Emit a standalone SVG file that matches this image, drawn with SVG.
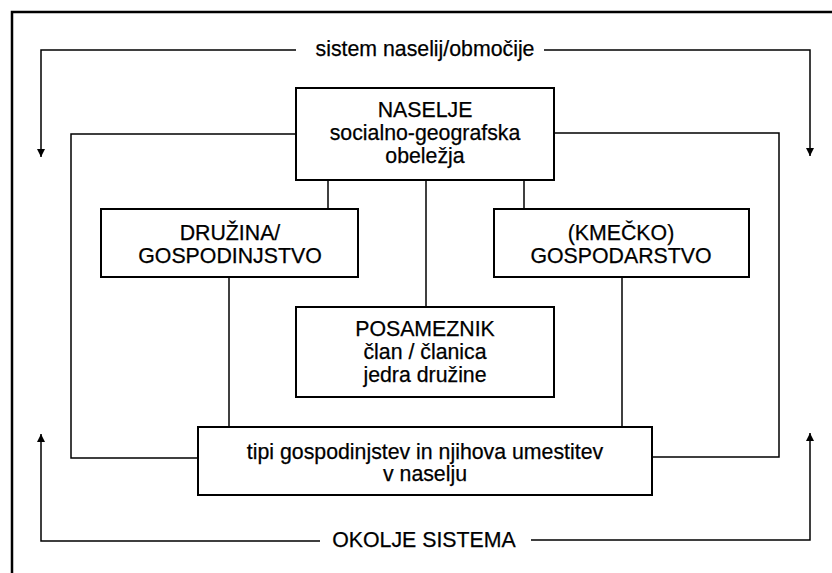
<svg xmlns="http://www.w3.org/2000/svg" width="832" height="573" viewBox="0 0 832 573">
<style>
.box{fill:#fff;stroke:#000;stroke-width:2}
.ln{fill:none;stroke:#000;stroke-width:1.5}
text{font-family:"Liberation Sans",Arial,sans-serif;font-size:21.3px;fill:#000;stroke:#000;stroke-width:0.25;text-anchor:middle}
</style>
<defs>
<marker id="ah" viewBox="0 0 8 10" refX="8" refY="5" markerWidth="9" markerHeight="10" markerUnits="userSpaceOnUse" orient="auto">
<path d="M0,1 L8,5 L0,9 Z" fill="#000"/>
</marker>
</defs>
<rect x="0" y="0" width="832" height="573" fill="#fff"/>
<rect id="frame" x="12" y="12" width="840" height="580" fill="none" stroke="#000" stroke-width="2.5"/>
<g id="connectors">
<path class="ln" d="M296,50 H41 V157" marker-end="url(#ah)"/>
<path class="ln" d="M544,50 H810 V156" marker-end="url(#ah)"/>
<path class="ln" d="M320,541 H41 V434" marker-end="url(#ah)"/>
<path class="ln" d="M531,540 H810 V433" marker-end="url(#ah)"/>
<path class="ln" d="M296,134 H71 V458 H198"/>
<path class="ln" d="M554,133 H779 V457 H652"/>
<path class="ln" d="M328,180 V209"/>
<path class="ln" d="M524,180 V209"/>
<path class="ln" d="M426,180 V307"/>
<path class="ln" d="M229,277 V427"/>
<path class="ln" d="M622,277 V427"/>
</g>
<g id="label-top"><text x="425" y="56">sistem naselij/območije</text></g>
<g id="label-bottom"><text x="424" y="547">OKOLJE SISTEMA</text></g>
<g id="naselje">
<rect class="box" x="296" y="88" width="258" height="92"/>
<text x="425" y="117">NASELJE</text>
<text x="425" y="140">socialno-geografska</text>
<text x="425" y="163">obeležja</text>
</g>
<g id="druzina">
<rect class="box" x="101" y="209" width="257" height="68"/>
<text x="230" y="240">DRUŽINA/</text>
<text x="230" y="263">GOSPODINJSTVO</text>
</g>
<g id="kmecko">
<rect class="box" x="494" y="209" width="255" height="68"/>
<text x="621" y="240">(KMEČKO)</text>
<text x="621" y="263">GOSPODARSTVO</text>
</g>
<g id="posameznik">
<rect class="box" x="296" y="307" width="258" height="90"/>
<text x="425" y="336">POSAMEZNIK</text>
<text x="425" y="359">član / članica</text>
<text x="425" y="382">jedra družine</text>
</g>
<g id="tipi">
<rect class="box" x="198" y="427" width="454" height="68"/>
<text x="425" y="459">tipi gospodinjstev in njihova umestitev</text>
<text x="425" y="481">v naselju</text>
</g>
</svg>
